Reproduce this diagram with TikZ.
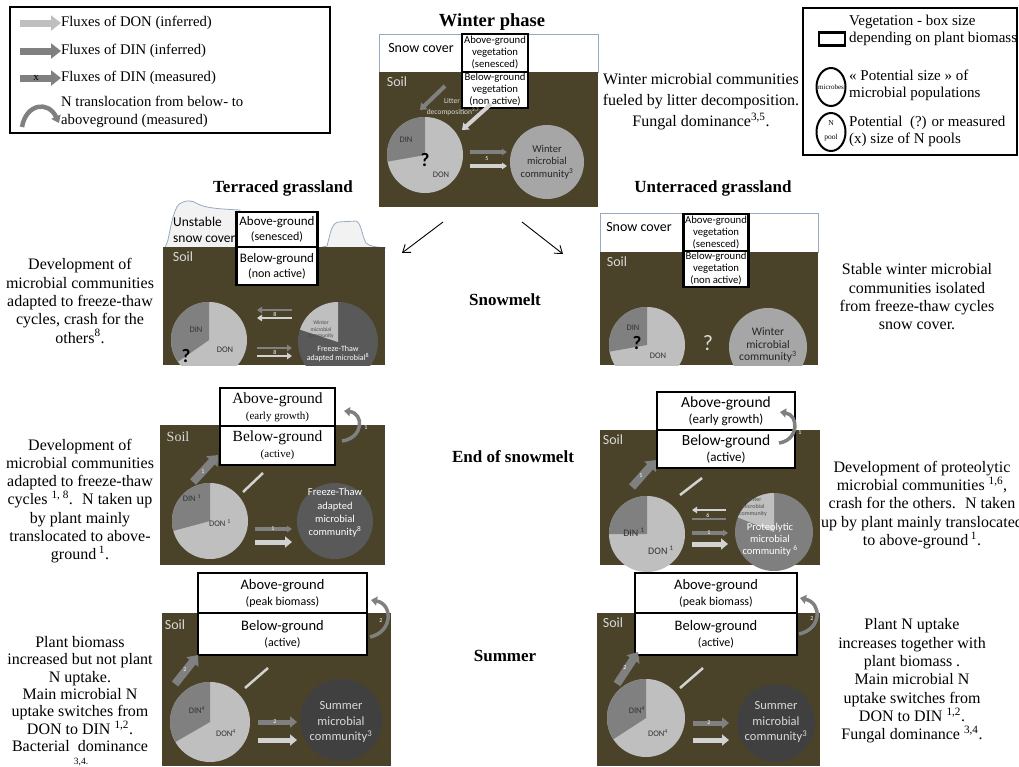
\documentclass[tikz,border=0pt]{standalone}
\usepackage{fontspec}
\setmainfont{Liberation Serif}
\newfontfamily\calib{Carlito}
\usetikzlibrary{arrows.meta,shapes.geometric}
\definecolor{soilc}{RGB}{74,67,41}
\definecolor{donc}{RGB}{191,191,191}
\definecolor{dinc}{RGB}{128,128,128}
\definecolor{wintc}{RGB}{166,166,166}
\definecolor{ftc}{RGB}{89,89,89}
\definecolor{sumc}{RGB}{64,64,64}
\definecolor{protc}{RGB}{127,127,127}
\definecolor{snowl}{RGB}{150,170,195}
\definecolor{snowf}{RGB}{242,242,242}
\definecolor{soiltxt}{RGB}{217,217,217}
\definecolor{lightarr}{RGB}{210,210,210}
\newcommand{\fsz}[2]{\fontsize{#1}{#2}\selectfont}
\newcommand{\pieslice}[4]{\fill[#4] (#1.center) -- (#1.north) arc[start angle=-90, end angle=-#3, radius=#2] -- cycle;}
\begin{document}
\begin{tikzpicture}[x=1pt,y=-1pt,
  veg/.style={draw=black, line width=2.2pt, fill=white, inner sep=0pt, outer sep=0pt, align=center, font=\calib},
  bodytxt/.style={align=center, font=\fsz{16}{18.3}, inner sep=0pt},
  ttl/.style={font=\bfseries\fsz{18.5}{20}, inner sep=0pt},
  legtxt/.style={font=\fsz{14.7}{18}, inner sep=0pt, align=left},
  snowbox/.style={draw=snowl, line width=0.8pt, fill=white, inner sep=0pt, outer sep=0pt},
  soilbox/.style={fill=soilc, inner sep=0pt, outer sep=0pt},
  pienode/.style={circle, inner sep=0pt, outer sep=0pt},
  soillbl/.style={font=\calib\fsz{14}{16}, text=soiltxt, inner sep=0pt},
  pietxt/.style={font=\calib\fsz{8.5}{9}, text=black!80, inner sep=0pt},
  qmark/.style={font=\calib\bfseries\fsz{19}{20}, inner sep=0pt},
  numlbl/.style={font=\calib\fsz{6}{6}, text=white, inner sep=0pt},
  bigdin/.style={draw=dinc, line width=5pt, -{Triangle[length=7pt,width=11pt]}},
  bigdon/.style={draw=lightarr, line width=5pt, -{Triangle[length=7pt,width=11pt]}},
  thindin/.style={draw=dinc, line width=2.5pt, -{Triangle[length=5pt,width=6.5pt]}},
  thindon/.style={draw=lightarr, line width=2.5pt, -{Triangle[length=5pt,width=6.5pt]}},
  uparr/.style={draw=dinc, line width=8pt, -{Triangle[length=9pt,width=15pt]}},
  litline/.style={draw=lightarr, line width=2.5pt},
  transl/.style={draw=dinc, line width=3.5pt, -{Triangle[length=6pt,width=9pt]}},
  branch/.style={draw=black, line width=0.9pt, -{Straight Barb[length=7pt,width=10pt]}},
  mictxt/.style={align=center, font=\calib\fsz{10.5}{12.5}, inner sep=0pt},
  legdon/.style={draw=donc, line width=7pt, -{Triangle[length=10pt,width=15pt]}},
  legdin/.style={draw=dinc, line width=7pt, -{Triangle[length=10pt,width=15pt]}},
]
\useasboundingbox (0,0) rectangle (1019,766);

% ---------------- left legend ----------------
\node[draw, line width=2.5pt, minimum width=320pt, minimum height=126pt, anchor=north west, inner sep=0pt, outer sep=0pt] (legL) at (10,7) {};
\coordinate (la1) at (20,23); \coordinate (lb1) at (61,23);
\draw[legdon] (la1) -- (lb1);
\node[legtxt, anchor=west] (lt1) at (61,23) {Fluxes of DON (inferred)};
\coordinate (la2) at (20,51); \coordinate (lb2) at (61,51);
\draw[legdin] (la2) -- (lb2);
\node[legtxt, anchor=west] (lt2) at (61,51) {Fluxes of DIN (inferred)};
\coordinate (la3) at (20,78); \coordinate (lb3) at (61,78);
\draw[legdin] (la3) -- (lb3);
\node[font=\fsz{11}{12}, inner sep=0pt] (lx) at (36,78) {x};
\node[legtxt, anchor=west] (lt3) at (61,78) {Fluxes of DIN (measured)};
\coordinate (lc1) at (22,127); \coordinate (lc2) at (59,123);
\draw[transl, line width=4.5pt, -{Triangle[length=7pt,width=10pt]}] (lc1) .. controls (26,104) and (48,100) .. (lc2);
\node[legtxt, anchor=west] (lt4) at (61,112) {N translocation from below- to\\aboveground (measured)};

% ---------------- right legend ----------------
\node[draw, line width=2.5pt, minimum width=214pt, minimum height=147pt, anchor=north west, inner sep=0pt, outer sep=0pt] (legR) at (803,8) {};
\node[draw, line width=2.5pt, minimum width=26pt, minimum height=13pt, inner sep=0pt] (lrv) at (832,39) {};
\node[legtxt, font=\fsz{15}{17}, anchor=west] (lrt1) at (849,30) {Vegetation - box size\\depending on plant biomass};
\node[draw, ellipse, line width=2pt, minimum width=29pt, minimum height=38pt, inner sep=0pt] (lrm) at (831,87) {};
\node[font=\fsz{7}{8}, inner sep=0pt] (lrmt) at (831,87) {microbes};
\node[legtxt, font=\fsz{15}{17}, anchor=west] (lrt2) at (849,85) {« Potential size » of\\microbial populations};
\node[draw, ellipse, line width=2pt, minimum width=29pt, minimum height=38pt, inner sep=0pt] (lrp) at (831,132) {};
\node[font=\fsz{7.5}{14}, inner sep=0pt, align=center] (lrpt) at (831,131) {N\\pool};
\node[legtxt, font=\fsz{15}{17}, anchor=west] (lrt3) at (849,131) {Potential~ (?) or measured\\(x) size of N pools};

% ---------------- titles ----------------
\node[ttl] (twin) at (492,22) {Winter phase};
\node[ttl, font=\bfseries\fsz{17}{20}] (tter) at (283,188) {Terraced grassland};
\node[ttl, font=\bfseries\fsz{17}{20}] (tunt) at (713,188) {Unterraced grassland};
\node[ttl, font=\bfseries\fsz{17}{20}] (tsm) at (505,300) {Snowmelt};
\node[ttl, font=\bfseries\fsz{17}{20}] (teos) at (513,457) {End of snowmelt};
\node[ttl, font=\bfseries\fsz{17}{20}] (tsum) at (505,656) {Summer};

% ---------------- winter panel ----------------
\node[snowbox, minimum width=219pt, minimum height=38pt, anchor=north west] (wsnow) at (379,34) {};
\node[soilbox, minimum width=219pt, minimum height=135pt, anchor=north west] (wsoil) at (379,72) {};
\node[veg, font=\calib\fsz{10.7}{12}, minimum width=66pt, minimum height=38pt] (wab) at (495,53) {Above-ground\\vegetation\\(senesced)};
\node[veg, font=\calib\fsz{10.7}{12}, minimum width=66pt, minimum height=36pt] (wbe) at (495,90) {Below-ground\\vegetation\\(non active)};
\node[font=\calib\fsz{14}{16}, inner sep=0pt] (wsc) at (421,48) {Snow cover};
\node[soillbl] (wsl) at (397,82) {Soil};
\coordinate (wl1) at (445,86); \coordinate (wl2) at (420,110);
\draw[dinc, line width=4pt, -{Triangle[length=6pt,width=9pt]}] (wl1) -- (wl2);
\coordinate (wl3) at (491,104); \coordinate (wl4) at (462,130);
\draw[lightarr, line width=4pt, -{Triangle[length=6pt,width=9pt]}] (wl3) -- (wl4);
\node[font=\calib\fsz{7.5}{10}, text=soiltxt, inner sep=0pt] (wlt1) at (452,101) {Litter};
\node[font=\calib\fsz{7.5}{10}, text=soiltxt, inner sep=0pt] (wlt2) at (453,111.5) {decomposition\textsuperscript{2,7}};
\node[pienode, fill=donc, minimum size=76pt] (wpie) at (425,155) {};
\pieslice{wpie}{38}{190}{dinc}
\node[pietxt] (wdin) at (406,140) {DIN};
\node[qmark] (wq) at (425,160) {?};
\node[pietxt] (wdon) at (441,175) {DON};
\coordinate (wa1) at (470,152); \coordinate (wa2) at (507,152);
\draw[thindin, line width=4pt] (wa1) -- (wa2);
\coordinate (wa3) at (470,166); \coordinate (wa4) at (507,166);
\draw[thindon, line width=4pt] (wa3) -- (wa4);
\node[numlbl] (w5) at (487,159) {5};
\node[pienode, fill=wintc, minimum size=74pt] (wmic) at (547,162) {};
\node[mictxt, text=black!85] (wmt) at (547,162) {Winter\\microbial\\community\textsuperscript{3}};
\node[bodytxt, font=\fsz{16}{21}] (wtxt) at (701,102) {Winter microbial communities\\fueled by litter decomposition.\\Fungal dominance\textsuperscript{3,5}.};

% branch arrows
\coordinate (ba1) at (443,222); \coordinate (ba2) at (402,253);
\draw[branch] (ba1) -- (ba2);
\coordinate (bb1) at (522,222); \coordinate (bb2) at (563,254);
\draw[branch] (bb1) -- (bb2);

% ---------------- terraced snowmelt ----------------
\filldraw[fill=snowf, draw=snowl, line width=0.8pt] (165,248) -- (168,240) .. controls (172,220) and (175,205) .. (181,203) .. controls (186,200) and (192,200) .. (198,204) .. controls (205,208) and (220,209) .. (240,210) -- (240,248) -- (318,248) -- (327,246) .. controls (330,235) and (331,224) .. (338,222) -- (356,221) .. controls (361,222) and (362,236) .. (366,243) .. controls (370,247) and (378,247) .. (386,248) -- cycle;
\node[soilbox, minimum width=222pt, minimum height=118pt, anchor=north west] (tsoil1) at (163,247) {};
\node[veg, font=\calib\fsz{13}{15}, minimum width=81pt, minimum height=35pt] (tab1) at (277,229.5) {Above-ground\\{\fsz{12}{14}(senesced)}};
\node[veg, font=\calib\fsz{13}{15}, minimum width=81pt, minimum height=38pt] (tbe1) at (277,266) {Below-ground\\{\fsz{12}{14}(non active)}};
\node[font=\calib\fsz{13.5}{15.5}, align=left, anchor=west, inner sep=0pt] (tus) at (173,230) {Unstable\\snow cover};
\node[soillbl] (tsl1) at (183,257) {Soil};
\begin{scope}
\clip (163,247) rectangle (385,365);
\node[pienode, fill=donc, minimum size=76pt] (tpie1) at (209,340) {};
\pieslice{tpie1}{38}{215}{dinc}
\node[pienode, fill=ftc, minimum size=80pt] (tmic1) at (338,342) {};
\pieslice{tmic1}{40}{162}{donc}
\end{scope}
\node[pietxt] (tdin1) at (196,330) {DIN};
\node[qmark] (tq1) at (186,356) {?};
\node[pietxt] (tdon1) at (225,350) {DON};
\coordinate (ta1) at (292,310); \coordinate (ta2) at (257,310);
\draw[thindin] (ta1) -- (ta2);
\coordinate (ta3) at (292,318); \coordinate (ta4) at (257,318);
\draw[thindon] (ta3) -- (ta4);
\node[numlbl] (t81) at (275,314) {8};
\coordinate (ta5) at (257,348); \coordinate (ta6) at (292,348);
\draw[thindin] (ta5) -- (ta6);
\coordinate (ta7) at (257,356); \coordinate (ta8) at (292,356);
\draw[thindon] (ta7) -- (ta8);
\node[numlbl] (t82) at (275,352) {8};
\node[align=center, font=\calib\fsz{5.5}{6.5}, text=black!70, inner sep=0pt] (twmc1) at (321,330) {Winter\\microbial\\community};
\node[align=center, font=\calib\fsz{8}{9}, text=white, inner sep=0pt] (tft1) at (338,354) {Freeze-Thaw\\adapted microbial\textsuperscript{8}};
\node[bodytxt] (ltx1) at (80,301) {Development of\\microbial communities\\adapted to freeze-thaw\\cycles, crash for the\\others\textsuperscript{8}.};

% ---------------- unterraced snowmelt ----------------
\node[snowbox, minimum width=218pt, minimum height=39pt, anchor=north west] (usnow1) at (600,213) {};
\node[soilbox, minimum width=218pt, minimum height=113pt, anchor=north west] (usoil1) at (600,252) {};
\node[veg, font=\calib\fsz{10.7}{12}, minimum width=65pt, minimum height=37pt] (uab1) at (716,232.5) {Above-ground\\vegetation\\(senesced)};
\node[veg, font=\calib\fsz{10.7}{12}, minimum width=65pt, minimum height=36pt] (ube1) at (716,269) {Below-ground\\vegetation\\(non active)};
\node[font=\calib\fsz{14}{16}, inner sep=0pt] (usc1) at (639,227) {Snow cover};
\node[soillbl] (usl1) at (617,262) {Soil};
\begin{scope}
\clip (600,252) rectangle (818,365);
\node[pienode, fill=donc, minimum size=76pt] (upie1) at (647,345) {};
\pieslice{upie1}{38}{190}{dinc}
\node[pienode, fill=wintc, minimum size=78pt] (umic1) at (768,347) {};
\end{scope}
\node[pietxt] (udin1) at (633,328) {DIN};
\node[qmark] (uq1) at (637,343) {?};
\node[pietxt] (udon1) at (658,356) {DON};
\node[font=\calib\fsz{22}{22}, text=soiltxt, inner sep=0pt] (uq2) at (708,343) {?};
\node[mictxt, font=\calib\fsz{11.5}{12.5}, text=black!85] (umt1) at (768,345) {Winter\\microbial\\community\textsuperscript{3}};
\node[bodytxt] (rtx1) at (917,297) {Stable winter microbial\\communities isolated\\from freeze-thaw cycles\\snow cover.};

% ---------------- terraced end of snowmelt ----------------
\node[soilbox, minimum width=225pt, minimum height=140pt, anchor=north west] (tsoil2) at (160,425) {};
\node[veg, font=\fsz{15.5}{16}, minimum width=115pt, minimum height=38pt] (tab2) at (277.5,407) {Above-ground\\{\fsz{11}{13}(early growth)}};
\node[veg, font=\fsz{15.5}{16}, minimum width=115pt, minimum height=39pt] (tbe2) at (277.5,445.5) {Below-ground\\{\fsz{11}{13}(active)}};
\node[font=\fsz{14}{16}, text=soiltxt, inner sep=0pt] (tsl2) at (178,437) {Soil};
\coordinate (tt1) at (342,441); \coordinate (tt2) at (344,411);
\draw[transl] (tt1) .. controls (364,438) and (364,413) .. (tt2);
\node[numlbl] (tn1) at (366,428) {1};
\coordinate (tu1) at (193,482); \coordinate (tu2) at (218,455);
\draw[uparr] (tu1) -- (tu2);
\node[numlbl] (tn2) at (203,472) {1};
\coordinate (tl1) at (243,492); \coordinate (tl2) at (263,473);
\draw[litline] (tl1) -- (tl2);
\node[pienode, fill=donc, minimum size=76pt] (tpie2) at (210,521) {};
\pieslice{tpie2}{38}{195}{dinc}
\node[pietxt] (tdin2) at (192,498) {DIN \textsuperscript{1}};
\node[pietxt] (tdon2) at (220,523) {DON \textsuperscript{1}};
\coordinate (tb1) at (255,529); \coordinate (tb2) at (292,529);
\draw[thindin, line width=3.5pt] (tb1) -- (tb2);
\node[numlbl] (tn3) at (273,529) {1};
\coordinate (tb3) at (255,542); \coordinate (tb4) at (292,542);
\draw[bigdon] (tb3) -- (tb4);
\node[pienode, fill=ftc, minimum size=76pt] (tmic2) at (335,521) {};
\node[mictxt, text=white, font=\calib\fsz{10.5}{13.3}] (tmt2) at (335,513) {Freeze-Thaw\\adapted\\microbial\\community\textsuperscript{8}};
\node[bodytxt] (ltx2) at (80,501) {Development of\\microbial communities\\adapted to freeze-thaw\\cycles \textsuperscript{1, 8}.~ N taken up\\by plant mainly\\translocated to above-\\ground\,\textsuperscript{1}.};

% ---------------- unterraced end of snowmelt ----------------
\node[soilbox, minimum width=220pt, minimum height=135pt, anchor=north west] (usoil2) at (600,430) {};
\node[veg, font=\calib\fsz{15.5}{16}, minimum width=138pt, minimum height=38pt] (uab2) at (726,411) {Above-ground\\{\fsz{13}{15}(early growth)}};
\node[veg, font=\calib\fsz{15.5}{16}, minimum width=138pt, minimum height=38pt] (ube2) at (726,449) {Below-ground\\{\fsz{13}{15}(active)}};
\node[soillbl] (usl2) at (613,440) {Soil};
\coordinate (ut1) at (779,443); \coordinate (ut2) at (780,412);
\draw[transl] (ut1) .. controls (799,440) and (799,415) .. (ut2);
\node[numlbl] (un1) at (800,433) {1};
\coordinate (uu1) at (632,487); \coordinate (uu2) at (656,460);
\draw[uparr] (uu1) -- (uu2);
\node[numlbl] (un2) at (641,476) {1};
\coordinate (ul1) at (680,495); \coordinate (ul2) at (702,478);
\draw[litline] (ul1) -- (ul2);
\node[pienode, fill=donc, minimum size=76pt] (upie2) at (647,534) {};
\pieslice{upie2}{38}{180}{dinc}
\node[pietxt, font=\calib\fsz{10}{10}] (udin2) at (634,532) {DIN \textsuperscript{1}};
\node[pietxt, font=\calib\fsz{10}{10}] (udon2) at (661,550) {DON \textsuperscript{1}};
\coordinate (uc1) at (726,510); \coordinate (uc2) at (692,510);
\draw[thindon] (uc1) -- (uc2);
\coordinate (uc3) at (726,519); \coordinate (uc4) at (692,519);
\draw[draw=dinc, line width=2.5pt] (uc3) -- (uc4);
\node[numlbl] (un3) at (708,515) {6};
\coordinate (uc5) at (692,533); \coordinate (uc6) at (728,533);
\draw[thindin, line width=3.5pt] (uc5) -- (uc6);
\node[numlbl] (un4) at (709,533) {1};
\coordinate (uc7) at (692,544); \coordinate (uc8) at (728,544);
\draw[bigdon] (uc7) -- (uc8);
\node[pienode, fill=protc, minimum size=78pt] (umic2) at (774,532) {};
\pieslice{umic2}{39}{158}{donc}
\node[align=center, font=\calib\fsz{6}{7}, text=black!70, inner sep=0pt] (uwmc2) at (753,507) {Winter\\microbial\\community};
\node[mictxt, text=white, font=\calib\fsz{10.5}{12}] (umt2) at (770,540) {Proteolytic\\microbial\\community \textsuperscript{6}};
\node[bodytxt] (rtx2) at (922,505) {Development of proteolytic\\microbial communities \textsuperscript{1,6},\\crash for the others.~ N taken\\up by plant mainly translocated\\to above-ground\,\textsuperscript{1}.};

% ---------------- terraced summer ----------------
\node[soilbox, minimum width=229pt, minimum height=153pt, anchor=north west] (tsoil3) at (162,613) {};
\node[veg, font=\calib\fsz{14.5}{16}, minimum width=169pt, minimum height=40pt] (tab3) at (282.5,593) {Above-ground\\{\fsz{12}{14}(peak biomass)}};
\node[veg, font=\calib\fsz{14.5}{16}, minimum width=169pt, minimum height=42pt] (tbe3) at (282.5,634) {Below-ground\\{\fsz{12}{14}(active)}};
\node[soillbl] (tsl3) at (175,625) {Soil};
\coordinate (tv1) at (370,637); \coordinate (tv2) at (371,600);
\draw[transl] (tv1) .. controls (393,632) and (393,604) .. (tv2);
\node[numlbl] (tn4) at (381,621) {2};
\coordinate (tw1) at (175,684); \coordinate (tw2) at (198,655);
\draw[uparr] (tw1) -- (tw2);
\node[numlbl] (tn5) at (185,670) {2};
\coordinate (tx1) at (245,688); \coordinate (tx2) at (268,668);
\draw[litline] (tx1) -- (tx2);
\node[pienode, fill=donc, minimum size=80pt] (tpie3) at (210,722) {};
\pieslice{tpie3}{40}{210}{dinc}
\node[pietxt] (tdin3) at (197,710) {DIN\textsuperscript{4}};
\node[pietxt] (tdon3) at (226,733) {DON\textsuperscript{4}};
\coordinate (ty1) at (258,722); \coordinate (ty2) at (297,722);
\draw[bigdin] (ty1) -- (ty2);
\node[numlbl] (tn6) at (275,722) {2};
\coordinate (ty3) at (258,740); \coordinate (ty4) at (297,740);
\draw[bigdon] (ty3) -- (ty4);
\node[pienode, fill=sumc, minimum size=82pt] (tmic3) at (341,720) {};
\node[mictxt, text=soiltxt, font=\calib\fsz{12.5}{15.5}] (tmt3) at (341,722) {Summer\\microbial\\community\textsuperscript{3}};
\node[bodytxt, font=\fsz{16}{17.4}] (ltx3) at (80,694) {Plant biomass\\increased but not plant\\N uptake.\\Main microbial N\\uptake switches from\\DON to DIN \textsuperscript{1,2}.\\Bacterial~ dominance};
\node[font=\fsz{9.5}{10}, inner sep=0pt] (ltx3b) at (81,762) {3,4.};

% ---------------- unterraced summer ----------------
\node[soilbox, minimum width=223pt, minimum height=153pt, anchor=north west] (usoil3) at (597,613) {};
\node[veg, font=\calib\fsz{14.5}{16}, minimum width=162pt, minimum height=40pt] (uab3) at (716,593) {Above-ground\\{\fsz{12}{14}(peak biomass)}};
\node[veg, font=\calib\fsz{14.5}{16}, minimum width=162pt, minimum height=42pt] (ube3) at (716,634) {Below-ground\\{\fsz{12}{14}(active)}};
\node[soillbl] (usl3) at (613,623) {Soil};
\coordinate (uv1) at (799,634); \coordinate (uv2) at (800,598);
\draw[transl] (uv1) .. controls (822,629) and (822,603) .. (uv2);
\node[numlbl] (un5) at (812,619) {2};
\coordinate (uw1) at (617,684); \coordinate (uw2) at (638,652);
\draw[uparr] (uw1) -- (uw2);
\node[numlbl] (un6) at (625,668) {2};
\coordinate (ux1) at (680,688); \coordinate (ux2) at (703,668);
\draw[litline] (ux1) -- (ux2);
\node[pienode, fill=donc, minimum size=78pt] (upie3) at (646,718) {};
\pieslice{upie3}{39}{213}{dinc}
\node[pietxt] (udin3) at (637,710) {DIN\textsuperscript{4}};
\node[pietxt] (udon3) at (658,733) {DON\textsuperscript{4}};
\coordinate (uy1) at (693,723); \coordinate (uy2) at (729,723);
\draw[bigdin] (uy1) -- (uy2);
\node[numlbl] (un7) at (709,723) {2};
\coordinate (uy3) at (693,740); \coordinate (uy4) at (729,740);
\draw[bigdon] (uy3) -- (uy4);
\node[pienode, fill=sumc, minimum size=78pt] (umic3) at (776,723) {};
\node[mictxt, text=soiltxt, font=\calib\fsz{12.5}{15.5}] (umt3) at (776,722) {Summer\\microbial\\community\textsuperscript{3}};
\node[bodytxt] (rtx3) at (912,681) {Plant N uptake\\increases together with\\plant biomass .\\Main microbial N\\uptake switches from\\DON to DIN \textsuperscript{1,2}.\\Fungal dominance \textsuperscript{3,4}.};
\end{tikzpicture}
\end{document}
